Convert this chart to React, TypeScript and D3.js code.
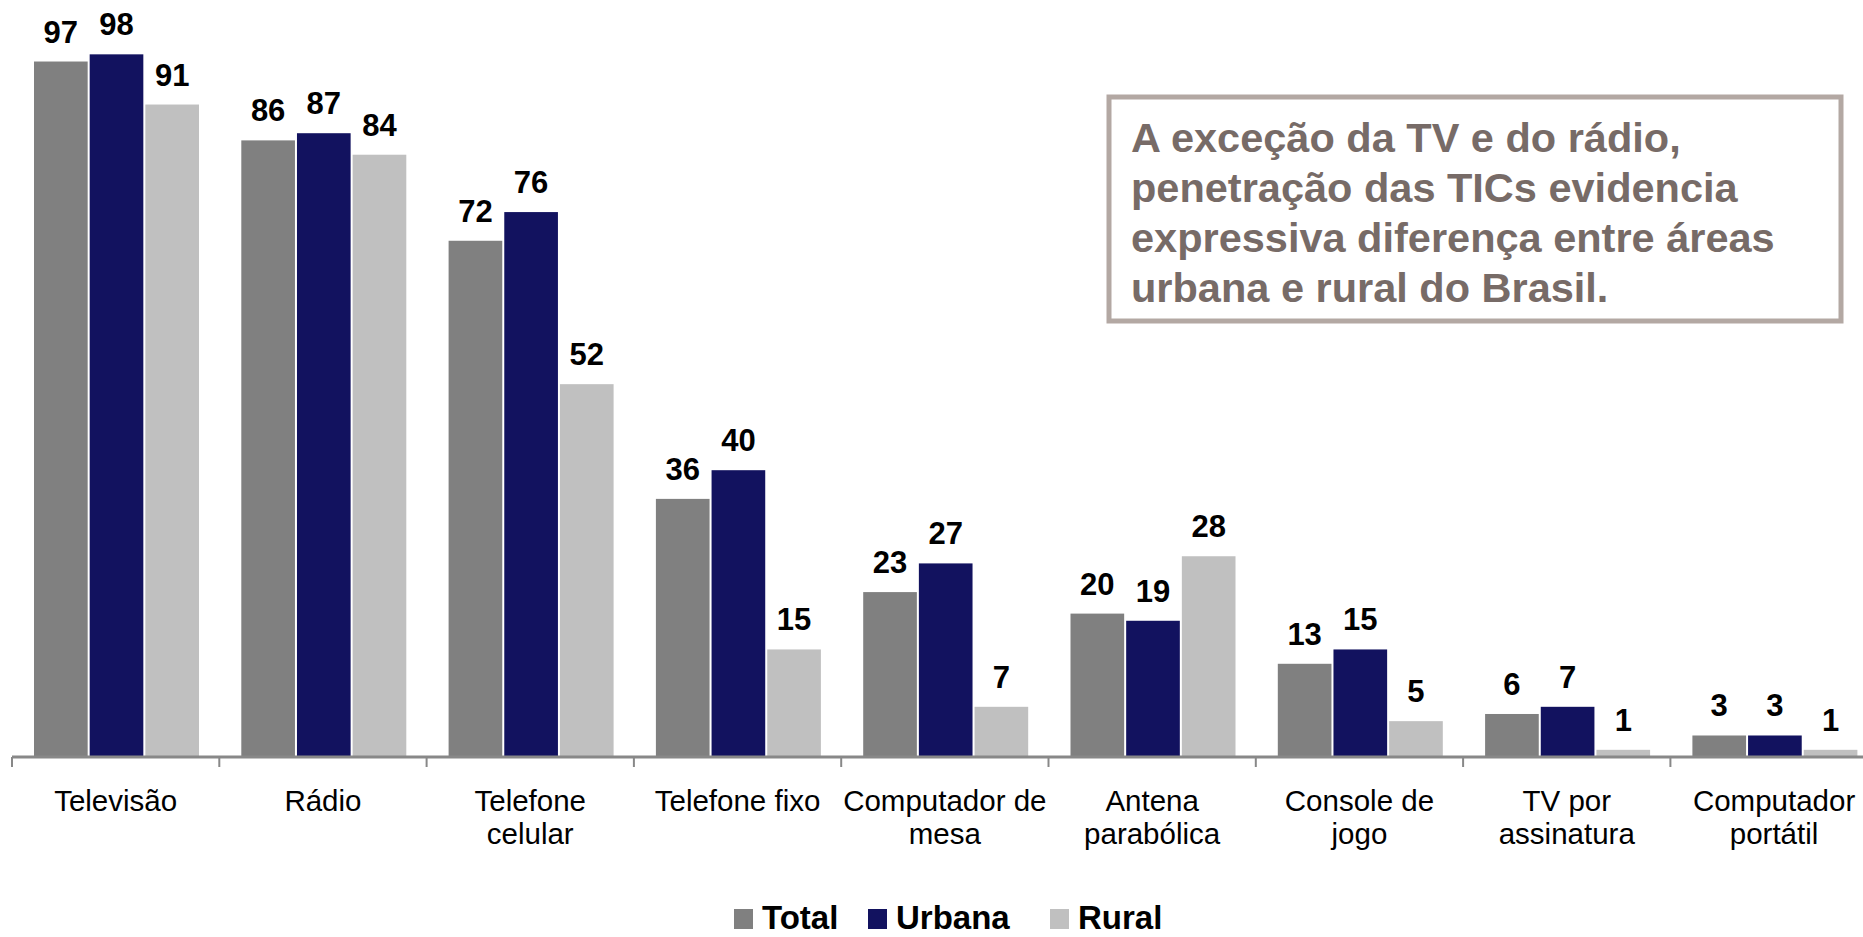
import React from "react";
import * as d3 from "d3";

const categories: string[][] = [
  ["Televisão"],
  ["Rádio"],
  ["Telefone", "celular"],
  ["Telefone fixo"],
  ["Computador de", "mesa"],
  ["Antena", "parabólica"],
  ["Console de", "jogo"],
  ["TV por", "assinatura"],
  ["Computador", "portátil"],
];
const seriesNames = ["Total", "Urbana", "Rural"];
const totalValues = [97, 86, 72, 36, 23, 20, 13, 6, 3];
const urbanaValues = [98, 87, 76, 40, 27, 19, 15, 7, 3];
const ruralValues = [91, 84, 52, 15, 7, 28, 5, 1, 1];
const seriesColors = ["#808080", "#12125F", "#C0C0C0"];
const noteLines = [
  "A exceção da TV e do rádio,",
  "penetração das TICs evidencia",
  "expressiva diferença entre áreas",
  "urbana e rural do Brasil.",
];

const W = 1863;
const H = 937;
const FONT = "'Liberation Sans', Arial, Helvetica, sans-serif";

export default function App() {
  const values = [totalValues, urbanaValues, ruralValues];
  const idx = categories.map((_, i) => i);
  const x = d3
    .scaleBand<number>()
    .domain(idx)
    .range([12, 12 + 207.3 * categories.length])
    .padding(0);
  const xs = d3
    .scaleBand<number>()
    .domain([0, 1, 2])
    .range([22, 187])
    .paddingInner(0.036)
    .paddingOuter(0);
  const y = d3.scaleLinear().domain([0, 100]).range([757, 40]);
  const base = y(0);

  const tickPositions = idx.map((i) => x(i)!);

  const legendX = [734, 868, 1050];

  return (
    <svg
      width={W}
      height={H}
      viewBox={`0 0 ${W} ${H}`}
      style={{ position: "absolute", left: 0, top: 0, display: "block", background: "#fff" }}
      fontFamily={FONT}
    >
      <rect x={0} y={0} width={W} height={H} fill="#fff" />
      {/* bars */}
      {idx.map((i) => (
        <g key={i} transform={`translate(${x(i)},0)`}>
          {values.map((vals, s) => {
            const v = vals[i];
            const bx = xs(s)!;
            const bw = xs.bandwidth();
            return (
              <g key={s}>
                <rect x={bx} y={y(v)} width={bw} height={base - y(v)} fill={seriesColors[s]} />
                <text
                  x={bx + bw / 2}
                  y={y(v) - 19}
                  textAnchor="middle"
                  fontSize={31}
                  fontWeight="bold"
                  fill="#000"
                >
                  {v}
                </text>
              </g>
            );
          })}
        </g>
      ))}
      {/* axis */}
      <line x1={12} x2={W} y1={757} y2={757} stroke="#888" strokeWidth={3} />
      {tickPositions.map((t, i) => (
        <line key={i} x1={t} x2={t} y1={757} y2={767} stroke="#888" strokeWidth={2} />
      ))}
      {/* category labels */}
      {idx.map((i) => (
        <text
          key={i}
          x={x(i)! + x.bandwidth() / 2}
          y={811}
          textAnchor="middle"
          fontSize={29.5}
          fill="#000"
        >
          {categories[i].map((line, k) => (
            <tspan key={k} x={x(i)! + x.bandwidth() / 2} y={811 + k * 33}>
              {line}
            </tspan>
          ))}
        </text>
      ))}
      {/* legend */}
      {seriesNames.map((n, s) => (
        <g key={n}>
          <rect x={legendX[s]} y={909} width={19} height={20} fill={seriesColors[s]} />
          <text x={legendX[s] + 28} y={929} fontSize={33} fontWeight="bold" fill="#000">
            {n}
          </text>
        </g>
      ))}
      {/* annotation box */}
      <rect x={1109} y={97} width={732} height={224} fill="#fff" stroke="#B3A8A3" strokeWidth={5} />
      {noteLines.map((l, k) => (
        <text key={k} x={1131} y={152 + k * 50} fontSize={41.5} fontWeight="bold" fill="#776B67">
          {l}
        </text>
      ))}
    </svg>
  );
}
